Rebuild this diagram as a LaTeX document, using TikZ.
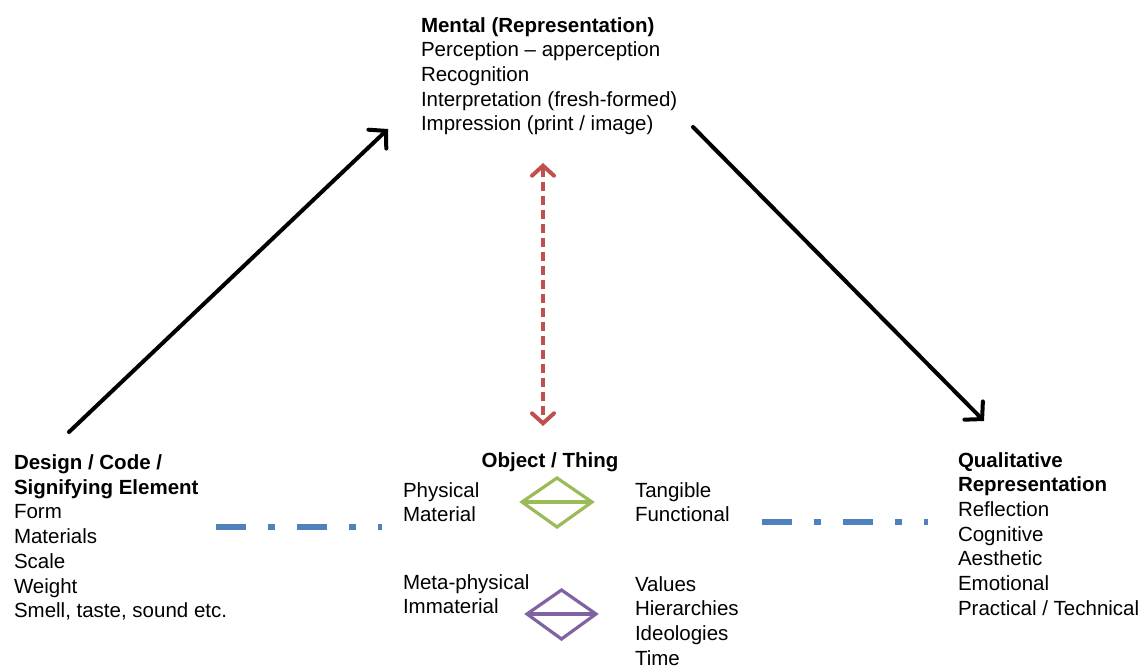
\documentclass[tikz,border=0pt]{standalone}
\usepackage{fontspec}
\setmainfont{Liberation Sans}
\usetikzlibrary{arrows.meta}
\definecolor{arrred}{HTML}{C0504D}
\definecolor{lineblue}{HTML}{4F81BD}
\definecolor{dgreen}{HTML}{9BBB59}
\definecolor{dpurple}{HTML}{8064A2}
\begin{document}
\begin{tikzpicture}[x=1pt,y=-1pt,
  txt/.style={inner sep=0pt,outer sep=0pt,align=left,anchor=north west,
    font=\fontsize{20.5}{24.7}\selectfont},
  mainarrow/.style={line width=4pt,line cap=round,black,
    -{Straight Barb[length=12pt,width=26pt,line width=4pt,line cap=round]}},
  linkarrow/.style={line width=4.5pt,arrred,dash pattern=on 9pt off 5pt,
    {Straight Barb[length=10pt,width=22pt,line width=4pt,line cap=round]}-{Straight Barb[length=10pt,width=22pt,line width=4pt,line cap=round]}},
  dashdot/.style={line width=6pt,lineblue,dash pattern=on 30pt off 22pt on 7pt off 22pt},
  diam/.style={line width=3.2pt,line join=miter}
]
\useasboundingbox (0,0) rectangle (1145,668);

% text blocks
\node[txt] (mental) at (421,14.8) {\strut\textbf{Mental (Representation)}\\Perception – apperception\\Recognition\\Interpretation (fresh-formed)\\Impression (print / image)};
\node[txt] (design) at (14,452.3) {\strut\textbf{Design / Code /}\\\textbf{Signifying Element}\\Form\\Materials\\Scale\\Weight\\Smell, taste, sound etc.};
\node[txt] (qual) at (958,449.8) {\strut\textbf{Qualitative}\\\textbf{Representation}\\Reflection\\Cognitive\\Aesthetic\\Emotional\\Practical / Technical};
\node[txt,anchor=base] (obj) at (550,467) {\textbf{Object / Thing}};
\node[txt] (phys) at (403,479.8) {\strut Physical\\Material};
\node[txt] (tang) at (635,479.8) {\strut Tangible\\Functional};
\node[txt] (meta) at (403,571.8) {\strut Meta-physical\\Immaterial};
\node[txt] (vals) at (635,573.8) {\strut Values\\Hierarchies\\Ideologies\\Time};

% arrow end points
\coordinate (la0) at (69,432);
\coordinate (la1) at (388,129);
\coordinate (ra0) at (693,127);
\coordinate (ra1) at (984,421);
\coordinate (rd0) at (543,163);
\coordinate (rd1) at (543,426);
\coordinate (bl0) at (216,527);
\coordinate (bl1) at (382,527);
\coordinate (br0) at (762,522);
\coordinate (br1) at (928,522);

\draw[mainarrow] (la0) -- (la1);
\draw[mainarrow] (ra0) -- (ra1);
\draw[linkarrow] (rd0) -- (rd1);
\draw[dashdot] (bl0) -- (bl1);
\draw[dashdot] (br0) -- (br1);

% diamonds
\draw[diam,dgreen] (522,502) -- (557,478) -- (592,502) -- (557,527) -- cycle;
\draw[diam,dgreen] (522,502) -- (592,502);
\draw[diam,dpurple] (527,614) -- (561.5,590) -- (596,614) -- (561.5,639) -- cycle;
\draw[diam,dpurple] (527,614) -- (596,614);
\end{tikzpicture}
\end{document}
